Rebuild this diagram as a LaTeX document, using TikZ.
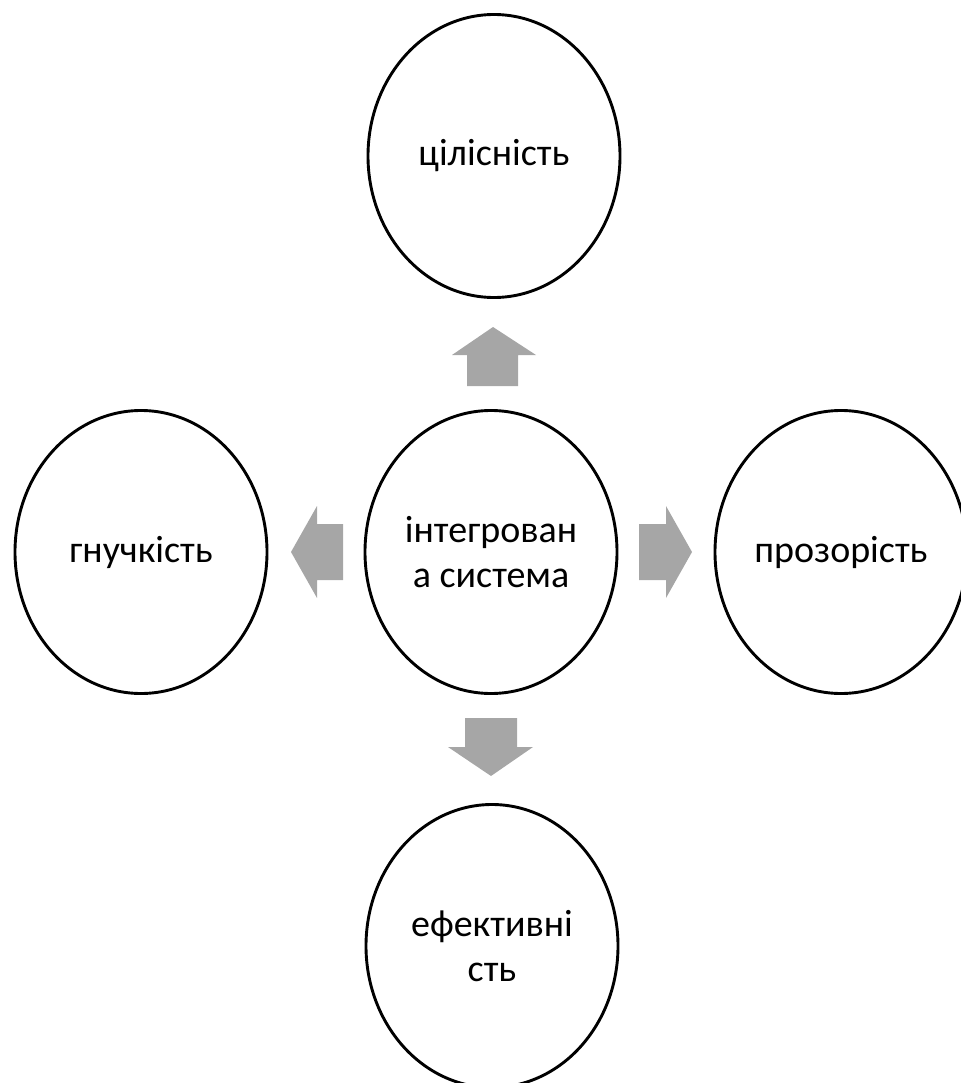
\documentclass[tikz,border=0pt]{standalone}
\usepackage{fontspec}
\setmainfont{Carlito}
\usetikzlibrary{shapes.geometric}
\definecolor{arrowgray}{HTML}{A6A6A6}
\tikzset{
  bubble/.style={ellipse, draw=black, line width=2.9pt, fill=white,
    minimum width=252pt, minimum height=283pt, inner sep=0pt,
    align=center, font=\fontsize{38}{45}\selectfont},
  blockarrow/.style={fill=arrowgray, draw=none}
}
\begin{document}
\begin{tikzpicture}[x=1pt,y=-1pt]
  \useasboundingbox (0,0) rectangle (960,1083);

  % ellipses
  \node[bubble] (top)    at (494,156)   {цілісність};
  \node[bubble] (centre) at (491,552)   {інтегрован\\а система};
  \node[bubble] (left)   at (141,552)   {гнучкість};
  \node[bubble] (right)  at (841,552)   {прозорість};
  \node[bubble] (bottom) at (492,946)   {ефективні\\сть};

  % block arrows pointing outwards from the centre
  \fill[blockarrow] (467,386) -- (467,355) -- (452,355) -- (493,327)
        -- (536,355) -- (518,355) -- (518,386) -- cycle;
  \fill[blockarrow] (465,718) -- (465,747) -- (448,747) -- (491,776)
        -- (533,747) -- (517,747) -- (517,718) -- cycle;
  \fill[blockarrow] (343,524) -- (317,524) -- (317,506) -- (291,552)
        -- (317,598) -- (317,580) -- (343,580) -- cycle;
  \fill[blockarrow] (639,524) -- (666,524) -- (666,506) -- (692,552)
        -- (666,598) -- (666,580) -- (639,580) -- cycle;
\end{tikzpicture}
\end{document}
